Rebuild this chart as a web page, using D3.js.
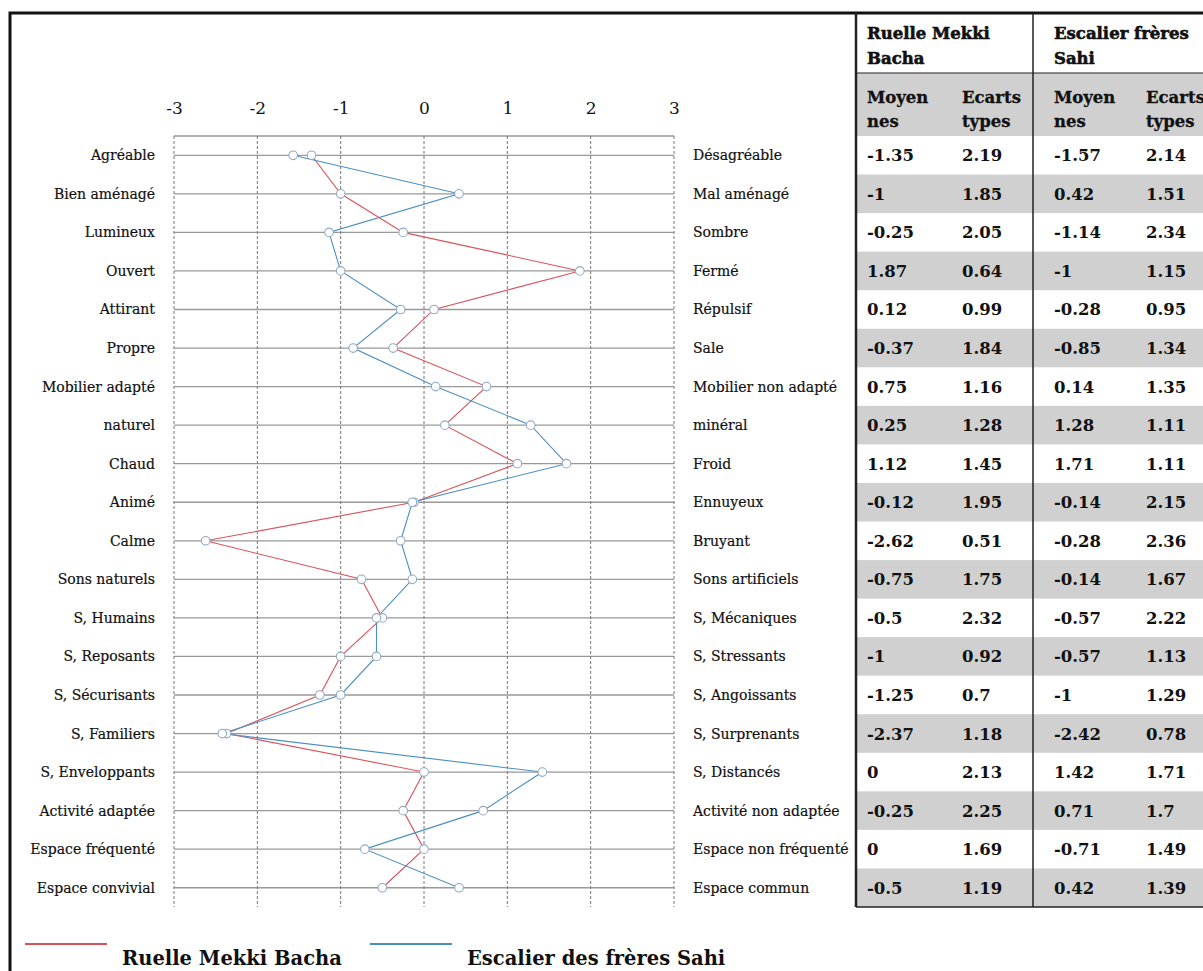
<!DOCTYPE html>
<html>
<head>
<meta charset="utf-8">
<script src="https://cdn.jsdelivr.net/npm/d3@7"></script>
<style>
  html, body { margin: 0; padding: 0; background: #fff; }
  svg { display: block; }
</style>
</head>
<body>
<svg id="chart" width="1203" height="971"></svg>
<script>
// ---------------- DATA ----------------
const leftLabels = ["Agréable","Bien aménagé","Lumineux","Ouvert","Attirant","Propre","Mobilier adapté","naturel","Chaud","Animé","Calme","Sons naturels","S, Humains","S, Reposants","S, Sécurisants","S, Familiers","S, Enveloppants","Activité adaptée","Espace fréquenté","Espace convivial"];
const rightLabels = ["Désagréable","Mal aménagé","Sombre","Fermé","Répulsif","Sale","Mobilier non adapté","minéral","Froid","Ennuyeux","Bruyant","Sons artificiels","S, Mécaniques","S, Stressants","S, Angoissants","S, Surprenants","S, Distancés","Activité non adaptée","Espace non fréquenté","Espace commun"];
const meansRuelle = [-1.35,-1,-0.25,1.87,0.12,-0.37,0.75,0.25,1.12,-0.12,-2.62,-0.75,-0.5,-1,-1.25,-2.37,0,-0.25,0,-0.5];
const sdRuelle = [2.19,1.85,2.05,0.64,0.99,1.84,1.16,1.28,1.45,1.95,0.51,1.75,2.32,0.92,0.7,1.18,2.13,2.25,1.69,1.19];
const meansEscalier = [-1.57,0.42,-1.14,-1,-0.28,-0.85,0.14,1.28,1.71,-0.14,-0.28,-0.14,-0.57,-0.57,-1,-2.42,1.42,0.71,-0.71,0.42];
const sdEscalier = [2.14,1.51,2.34,1.15,0.95,1.34,1.35,1.11,1.11,2.15,2.36,1.67,2.22,1.13,1.29,0.78,1.71,1.7,1.49,1.39];
const xTicks = [-3,-2,-1,0,1,2,3];
const seriesNames = ["Ruelle Mekki Bacha","Escalier des frères Sahi"];
const tableGroups = [["Ruelle Mekki","Bacha"],["Escalier frères","Sahi"]];
const tableSubHeads = [["Moyen","nes"],["Ecarts","types"]];

// ---------------- STYLE ----------------
const RED = "#d9545a", BLUE = "#4a8fc0";
const labelFont = "'DejaVu Serif', serif";

const svg = d3.select("#chart");

// scales
const x = d3.scaleLinear().domain([-3, 3]).range([174, 674]);
const y = d3.scaleBand().domain(d3.range(leftLabels.length)).range([136, 907]).padding(0);
const cy = i => y(i) + y.bandwidth() / 2;

// outer frame
svg.append("rect").attr("x", 10).attr("y", 13).attr("width", 1250).attr("height", 1000)
  .attr("fill", "none").attr("stroke", "#111").attr("stroke-width", 3);

// ---------------- TABLE ----------------
const tX0 = 856, tXmid = 1033, tX1 = 1260;
const colX = [867, 962, 1054, 1146];
const tbl = svg.append("g");
tbl.append("rect").attr("x", tX0).attr("y", 73).attr("width", tX1 - tX0).attr("height", 136 - 73).attr("fill", "#d0d0d0");
tbl.selectAll("rect.band").data(d3.range(leftLabels.length).filter(i => i % 2 === 1)).join("rect")
  .attr("class", "band").attr("x", tX0).attr("y", i => y(i)).attr("width", tX1 - tX0)
  .attr("height", y.bandwidth()).attr("fill", "#d0d0d0");
tbl.append("line").attr("x1", tX0).attr("x2", tX1).attr("y1", 73).attr("y2", 73).attr("stroke", "#222").attr("stroke-width", 1.2);
tbl.append("line").attr("x1", tX0).attr("x2", tX1).attr("y1", 907).attr("y2", 907).attr("stroke", "#222").attr("stroke-width", 1.5);
tbl.append("line").attr("x1", tX0).attr("x2", tX0).attr("y1", 13).attr("y2", 907).attr("stroke", "#222").attr("stroke-width", 2.5);
tbl.append("line").attr("x1", tXmid).attr("x2", tXmid).attr("y1", 13).attr("y2", 907).attr("stroke", "#222").attr("stroke-width", 1.5);

// group headers (heavy)
tableGroups.forEach((lines, g) => {
  lines.forEach((t, k) => {
    tbl.append("text").attr("x", colX[g * 2]).attr("y", 39 + k * 25)
      .attr("font-family", labelFont).attr("font-weight", "bold").attr("font-size", 16.5)
      .attr("fill", "#111").attr("stroke", "#111").attr("stroke-width", 0.6).text(t);
  });
});
// sub headers
[0, 1].forEach(g => {
  tableSubHeads.forEach((lines, s) => {
    lines.forEach((t, k) => {
      tbl.append("text").attr("x", colX[g * 2 + s]).attr("y", 103 + k * 24)
        .attr("font-family", labelFont).attr("font-weight", "bold").attr("font-size", 16.5)
        .attr("fill", "#111").attr("stroke", "#111").attr("stroke-width", 0.3).text(t);
    });
  });
});
// numbers
const tableCols = [meansRuelle, sdRuelle, meansEscalier, sdEscalier];
tableCols.forEach((col, c) => {
  tbl.selectAll("text.num" + c).data(col).join("text")
    .attr("class", "num" + c)
    .attr("x", colX[c]).attr("y", (d, i) => cy(i) + 6)
    .attr("font-family", labelFont).attr("font-weight", "bold").attr("font-size", 16.5)
    .attr("fill", "#111").text(d => String(d));
});

// ---------------- PLOT ----------------
const plot = svg.append("g");
plot.append("line").attr("x1", x(-3)).attr("x2", x(3)).attr("y1", 136).attr("y2", 136)
  .attr("stroke", "#999").attr("stroke-width", 1.3);
plot.selectAll("line.hg").data(d3.range(leftLabels.length)).join("line")
  .attr("class", "hg").attr("x1", x(-3)).attr("x2", x(3))
  .attr("y1", i => cy(i)).attr("y2", i => cy(i))
  .attr("stroke", "#999").attr("stroke-width", 1.3);
plot.selectAll("line.vg").data(xTicks).join("line")
  .attr("class", "vg").attr("x1", d => x(d)).attr("x2", d => x(d))
  .attr("y1", 136).attr("y2", 907)
  .attr("stroke", "#777").attr("stroke-width", 1).attr("stroke-dasharray", "3,2");

// top axis labels
const axis = d3.axisTop(x).tickValues(xTicks).tickSize(0).tickPadding(0).tickFormat(d3.format("d"));
const ag = plot.append("g").attr("transform", "translate(0,114)").call(axis);
ag.select(".domain").remove();
ag.selectAll("text").attr("font-family", labelFont).attr("font-size", 17).attr("fill", "#111")
  .attr("dy", 0).text(d => String(d));

// left/right labels
plot.selectAll("text.ll").data(leftLabels).join("text").attr("class", "ll")
  .attr("x", 155).attr("y", (d, i) => cy(i) + 5).attr("text-anchor", "end")
  .attr("font-family", labelFont).attr("font-size", 14).attr("fill", "#111")
  .attr("stroke", "#111").attr("stroke-width", 0.2).text(d => d);
plot.selectAll("text.rl").data(rightLabels).join("text").attr("class", "rl")
  .attr("x", 693).attr("y", (d, i) => cy(i) + 5).attr("text-anchor", "start")
  .attr("font-family", labelFont).attr("font-size", 14).attr("fill", "#111")
  .attr("stroke", "#111").attr("stroke-width", 0.2).text(d => d);

// series lines
const lineGen = d3.line().x(d => x(d)).y((d, i) => cy(i));
[[meansRuelle, RED], [meansEscalier, BLUE]].forEach(([vals, col]) => {
  plot.append("path").datum(vals).attr("d", lineGen)
    .attr("fill", "none").attr("stroke", col).attr("stroke-width", 1.1);
});
[meansRuelle, meansEscalier].forEach(vals => {
  plot.selectAll(null).data(vals).join("circle")
    .attr("cx", d => x(d)).attr("cy", (d, i) => cy(i)).attr("r", 4.3)
    .attr("fill", "#fff").attr("stroke", "#93a9c6").attr("stroke-width", 1.1);
});

// ---------------- LEGEND ----------------
const leg = svg.append("g");
const legItems = [
  { name: seriesNames[0], color: RED, lx: 25, tx: 122 },
  { name: seriesNames[1], color: BLUE, lx: 370, tx: 467 }
];
legItems.forEach(it => {
  leg.append("line").attr("x1", it.lx).attr("x2", it.lx + 82).attr("y1", 944).attr("y2", 944)
    .attr("stroke", it.color).attr("stroke-width", 2);
  leg.append("text").attr("x", it.tx).attr("y", 965)
    .attr("font-family", labelFont).attr("font-weight", "bold").attr("font-size", 19.5)
    .attr("fill", "#111").text(it.name);
});
</script>
</body>
</html>
